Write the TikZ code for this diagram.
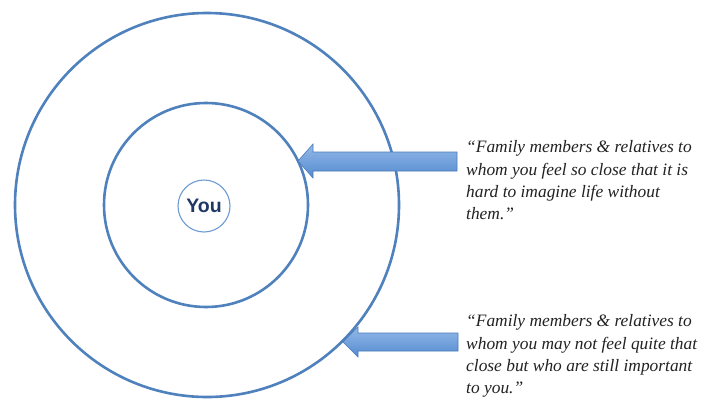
\documentclass[tikz,border=0pt]{standalone}
\usepackage{fontspec}
\setmainfont{Liberation Serif}
\setsansfont{Liberation Sans}
\definecolor{ringblue}{RGB}{79,129,189}
\definecolor{youring}{RGB}{110,155,210}
\definecolor{younavy}{RGB}{31,56,100}
\definecolor{arrowtop}{RGB}{148,186,232}
\definecolor{arrowbot}{RGB}{84,138,208}
\definecolor{arrowedge}{RGB}{76,124,186}
\definecolor{quotegray}{RGB}{34,34,34}
\tikzset{
  ring/.style={draw=ringblue, line width=2.6pt},
  youcirc/.style={circle, draw=youring, line width=1.1pt, fill=white,
    minimum size=52pt, inner sep=0pt,
    font=\sffamily\bfseries\fontsize{19.5}{22}\selectfont, text=younavy},
  blockarrow/.style={top color=arrowtop, bottom color=arrowbot,
    draw=arrowedge, line width=0.6pt, line join=miter},
  quote/.style={anchor=north west, inner sep=0pt, align=left,
    text=quotegray, font=\itshape\fontsize{17.4}{22.4}\selectfont}
}
\begin{document}
\begin{tikzpicture}[x=1pt,y=-1pt]
\useasboundingbox (0,0) rectangle (709,399);
\fill[white] (0,0) rectangle (709,399);

% concentric rings
\draw[ring] (207,205) circle (192pt);
\draw[ring] (206,205) circle (102pt);
\node[youcirc] (you) at (204,206) {You};

% block arrows pointing at the rings
\path[blockarrow] (457,152) -- (313,152) -- (313,144) -- (298,161)
  -- (313,178) -- (313,171) -- (457,171) -- cycle;
\path[blockarrow] (458,333) -- (358,333) -- (358,327) -- (343,342)
  -- (358,357) -- (358,351) -- (458,351) -- cycle;

% descriptions
\node[quote] (inner) at (466,140.5) {“Family members \& relatives to\\
whom you feel so close that it is\\
hard to imagine life without\\
them.”};
\node[quote] (outer) at (466,314.5) {“Family members \& relatives to\\
whom you may not feel quite that\\
close but who are still important\\
to you.”};
\end{tikzpicture}
\end{document}
